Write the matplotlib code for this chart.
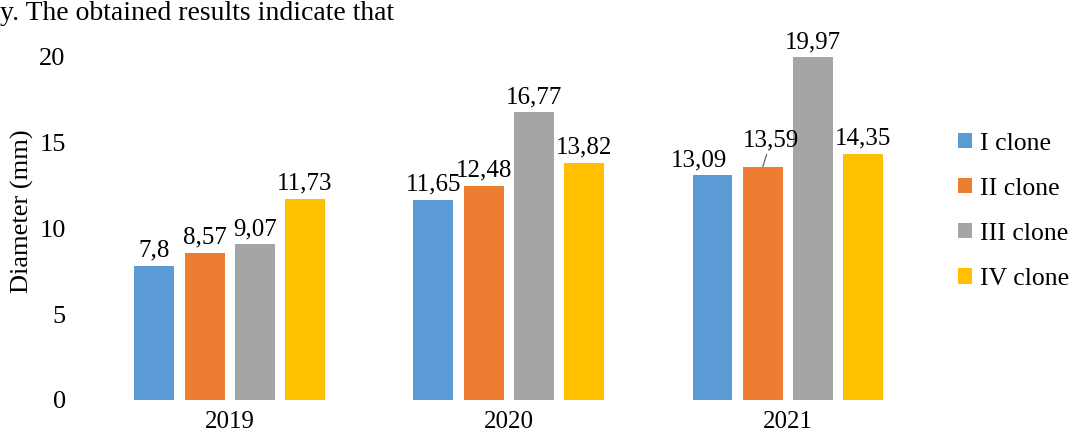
import matplotlib.pyplot as plt
import numpy as np

plt.rcParams['font.family'] = ['Liberation Serif', 'DejaVu Serif']

years = ['2019', '2020', '2021']
clones = ['I clone', 'II clone', 'III clone', 'IV clone']
clone_1 = [7.8, 11.65, 13.09]
clone_2 = [8.57, 12.48, 13.59]
clone_3 = [9.07, 16.77, 19.97]
clone_4 = [11.73, 13.82, 14.35]
colors = ['#5B9BD5', '#ED7D31', '#A5A5A5', '#FFC000']

series = [clone_1, clone_2, clone_3, clone_4]

# labels that were moved by hand in the original (series, year) -> offset in points
moved = {(0, 2): (-10, 0), (1, 2): (6, 8)}

fig = plt.figure(figsize=(10.69, 4.36), dpi=100)
ax = fig.add_axes([0.077, 0.083, 0.795, 0.865])

x = np.arange(len(years))
width = 0.143
step = 0.18

for i, (vals, name, col) in enumerate(zip(series, clones, colors)):
    pos = x + (i - 1.5) * step
    bars = ax.bar(pos, vals, width, color=col, label=name)
    for j, (b, v) in enumerate(zip(bars, vals)):
        dx, dy = moved.get((i, j), (0, 0))
        arrow = dict(arrowstyle='-', color='#555555', lw=0.8, shrinkA=0, shrinkB=0) if (i, j) == (1, 2) else None
        ax.annotate(f'{v:g}'.replace('.', ','), xy=(b.get_x() + b.get_width() / 2, v),
                    xytext=(dx, 3 + dy), textcoords='offset points',
                    ha='center', va='bottom', fontsize=18, arrowprops=arrow,
                    annotation_clip=False)

ax.set_xlim(-0.528, 2.517)
ax.set_ylim(0, 22)
ax.set_yticks([0, 5, 10, 15, 20])
ax.set_xticks(x)
ax.set_xticklabels(years)
ax.tick_params(axis='y', length=0, labelsize=19, pad=12)
ax.tick_params(axis='x', length=0, labelsize=18, pad=8)
ax.set_ylabel('Diameter (mm)', fontsize=19, labelpad=4)
for s in ax.spines.values():
    s.set_visible(False)

ax.legend(loc='center left', bbox_to_anchor=(1.0, 0.5), frameon=False, fontsize=18.5,
          handlelength=0.55, handleheight=0.55, handletextpad=0.3, labelspacing=0.9,
          borderaxespad=0.6)

fig.text(0.0, 0.998, 'y. The obtained results indicate that', fontsize=20, va='top', ha='left')

plt.savefig('out.png', dpi=100)
